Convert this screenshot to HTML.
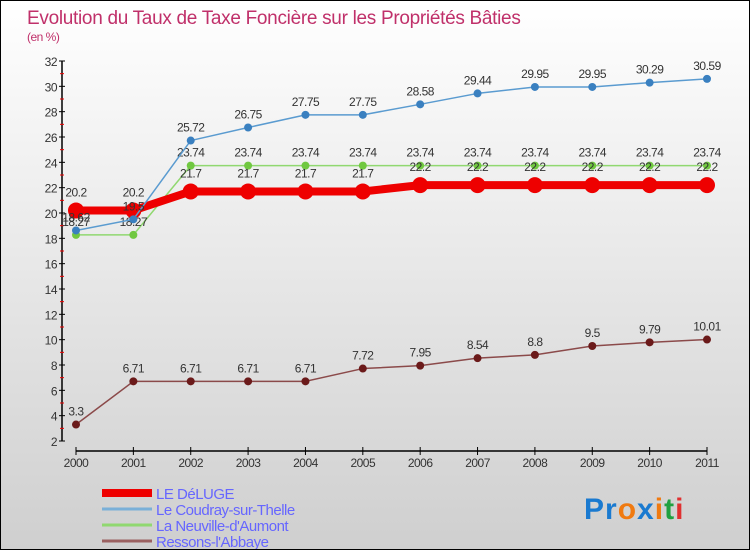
<!DOCTYPE html>
<html><head><meta charset="utf-8"><style>
body{margin:0}
#wrap{width:750px;height:550px;position:relative;box-sizing:border-box;border:1px solid #000;background:linear-gradient(#ffffff,#cfcfcf);overflow:hidden;font-family:"Liberation Sans",sans-serif}
</style></head><body>
<div id="wrap">
<svg id="svg" width="750" height="550" style="position:absolute;left:0;top:0"></svg>
</div>
<script>
const years=['2000','2001','2002','2003','2004','2005','2006','2007','2008','2009','2010','2011'];
const deluge=[20.2,20.2,21.7,21.7,21.7,21.7,22.2,22.2,22.2,22.2,22.2,22.2];
const coudray=[18.62,19.5,25.72,26.75,27.75,27.75,28.58,29.44,29.95,29.95,30.29,30.59];
const neuville=[18.27,18.27,23.74,23.74,23.74,23.74,23.74,23.74,23.74,23.74,23.74,23.74];
const ressons=[3.3,6.71,6.71,6.71,6.71,7.72,7.95,8.54,8.8,9.5,9.79,10.01];
const yTicks=[2,4,6,8,10,12,14,16,18,20,22,24,26,28,30,32];
const seriesNames=['LE DéLUGE','Le Coudray-sur-Thelle','La Neuville-d\'Aumont','Ressons-l\'Abbaye'];

const NS='http://www.w3.org/2000/svg',svg=document.getElementById('svg');
const x=i=>75+i*(706-75)/11;
const y=v=>440-(v-2)*(440-60)/30;
function el(t,a,p){const e=document.createElementNS(NS,t);for(const k in a)e.setAttribute(k,a[k]);(p||svg).appendChild(e);return e;}
function tx(s,X,Y,a){const e=el('text',Object.assign({x:X,y:Y,'font-size':12,fill:'#333','text-anchor':'middle','letter-spacing':'-0.5'},a||{}));e.textContent=s;return e;}

let t=tx('Evolution du Taux de Taxe Foncière sur les Propriétés Bâties',26,23,{'font-size':19,fill:'#c0306a','text-anchor':'start','letter-spacing':'-0.3'});

t=tx('(en %)',26,40,{'font-size':12,fill:'#c0306a','text-anchor':'start'});


// axes
const ya=el('line',{x1:61,y1:y(32),x2:61,y2:y(2),stroke:'#000','stroke-width':1.5});

yTicks.forEach((v,i)=>{
  el('line',{x1:58,x2:64,y1:y(v),y2:y(v),stroke:'#000'});
  const l=tx(String(v),56,y(v)+5,{'text-anchor':'end','font-size':12});
  
  if(i<yTicks.length-1)el('line',{x1:59,x2:63,y1:y(v+1),y2:y(v+1),stroke:'#e00'});
});
const xa=el('line',{x1:75,y1:450,x2:706,y2:450,stroke:'#000','stroke-width':1.5});

years.forEach((s,i)=>{
  el('line',{x1:x(i),x2:x(i),y1:446,y2:454,stroke:'#000'});
  const l=tx(s,x(i),466,{'font-size':12});
  
});

function series(data,name,color,w,r,fill,ldy){
  const g=el('g',{});
  
  el('polyline',{points:data.map((v,i)=>x(i)+','+y(v)).join(' '),fill:'none',stroke:color,'stroke-width':w,'stroke-linejoin':'round'},g);
  data.forEach((v,i)=>{
    const c=el('circle',{cx:x(i),cy:y(v),r:r,fill:fill},g);
    
    const l=tx(String(v),x(i),y(v)-ldy,{},g);
    
  });
}
series(ressons,'ressons-line','#8b4a4a',1.5,4,'#6b1a1a',9);
series(neuville,'neuville-line','#90d870',1.5,4,'#70c840',9);
series(deluge,'deluge-line','#ee0000',8,8,'#ee0000',14);
series(coudray,'coudray-line','#5a9bd0',1.5,4,'#3a80c0',9);

// legend
const legColors=['#ee0000','#7ab0d8','#90d870','#9a6060'];
const legW=[8,3,3,3];
seriesNames.forEach((n,i)=>{
  const Y=492+i*16;
  const ln=el('line',{x1:101,x2:151,y1:Y,y2:Y,stroke:legColors[i],'stroke-width':legW[i]});
  
  const l=tx(n,155,Y+6,{'text-anchor':'start','font-size':15,fill:'#6666ff'});
  
});
// logo
const lg=el('text',{x:583,y:518,'font-size':30,'font-weight':'bold','letter-spacing':'1'});

[['P','#1a7ad0'],['r','#1a7ad0'],['o','#f07a10'],['x','#1a7ad0'],['i','#f07a10'],['t','#20a040'],['i','#e03030']].forEach(([c,f])=>{const s=el('tspan',{fill:f},lg);s.textContent=c;});
</script>
</body></html>
